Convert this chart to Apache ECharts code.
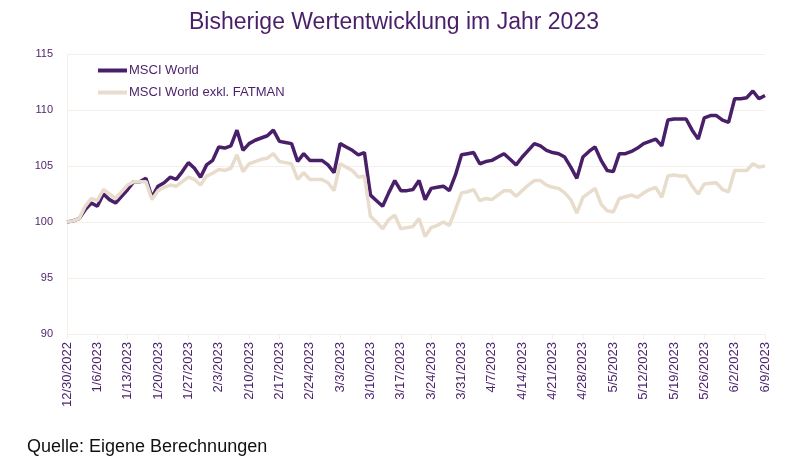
<!DOCTYPE html>
<html>
<head>
<meta charset="utf-8">
<script src="https://cdn.jsdelivr.net/npm/echarts@6/dist/echarts.min.js"></script>
<style>
  html, body { margin: 0; padding: 0; background: #fff; }
  #chart { width: 788px; height: 473px; }
</style>
</head>
<body>
<div id="chart"></div>
<script>
// Handelstage 30.12.2022 - 9.6.2023 (Mo-Fr)
var dates = [];
var d = new Date(2022, 11, 30);
var end = new Date(2023, 5, 9);
while (d <= end) {
    var wd = d.getDay();
    if (wd !== 0 && wd !== 6) {
        dates.push((d.getMonth() + 1) + '/' + d.getDate() + '/' + d.getFullYear());
    }
    d.setDate(d.getDate() + 1);
}

var msciWorld = [
    100.0, 100.1, 100.3, 101.1, 101.7, 101.4, 102.5, 102.0, 101.7, 102.3,
    102.9, 103.6, 103.6, 103.9, 102.2, 103.2, 103.5, 104.0, 103.8, 104.5,
    105.3, 104.8, 104.0, 105.1, 105.5, 106.7, 106.6, 106.8, 108.2, 106.4,
    107.0, 107.3, 107.5, 107.7, 108.2, 107.2, 107.1, 107.0, 105.4, 106.1,
    105.5, 105.5, 105.5, 105.1, 104.4, 107.0, 106.7, 106.4, 106.0, 106.2,
    102.4, 101.9, 101.4, 102.6, 103.7, 102.8, 102.8, 102.9, 103.7, 102.0,
    103.0, 103.1, 103.2, 102.8, 104.2, 106.0, 106.1, 106.2, 105.2, 105.4,
    105.5, 105.8, 106.1, 105.6, 105.1, 105.8, 106.4, 107.0, 106.8, 106.4,
    106.2, 106.1, 105.8, 104.9, 103.9, 105.8, 106.3, 106.7, 105.5, 104.6,
    104.5, 106.1, 106.1, 106.3, 106.6, 107.0, 107.2, 107.4, 106.8, 109.1,
    109.2, 109.2, 109.2, 108.2, 107.4, 109.3, 109.5, 109.5, 109.1, 108.9,
    111.0, 111.0, 111.1, 111.7, 111.0, 111.3
];

var msciExFatman = [
    100.0, 100.1, 100.3, 101.4, 102.1, 101.9, 102.9, 102.5, 102.1, 102.7,
    103.3, 103.6, 103.6, 103.6, 102.0, 102.8, 103.1, 103.3, 103.2, 103.6,
    104.0, 103.8, 103.3, 104.1, 104.35, 104.7, 104.6, 104.8, 106.0, 104.5,
    105.2, 105.4, 105.6, 105.7, 106.1, 105.4, 105.3, 105.2, 103.8, 104.4,
    103.8, 103.8, 103.8, 103.5, 102.8, 105.2, 104.9, 104.6, 104.0, 104.1,
    100.5, 100.0, 99.4, 100.2, 100.6, 99.4, 99.5, 99.6, 100.3, 98.7,
    99.5, 99.7, 100.0, 99.7, 101.1, 102.6, 102.7, 102.9, 101.9, 102.1,
    102.0, 102.4, 102.8, 102.8, 102.3, 102.8, 103.3, 103.7, 103.7, 103.3,
    103.1, 103.0, 102.6, 102.0, 100.8, 102.2, 102.6, 103.0, 101.6, 101.0,
    100.9, 102.1, 102.25, 102.4, 102.2, 102.6, 102.9, 103.1, 102.2, 104.1,
    104.2, 104.1, 104.1, 103.2, 102.5, 103.4, 103.45, 103.5, 102.9, 102.7,
    104.6, 104.6, 104.6, 105.2, 104.9, 105.0
];

var purple = '#4a1f69';
var beige = '#e8dccd';
var gridColor = '#f6efe7';

var chart = echarts.init(document.getElementById('chart'));
chart.setOption({
    animation: false,
    textStyle: { fontFamily: 'Liberation Sans, Arial, sans-serif' },
    title: {
        text: 'Bisherige Wertentwicklung im Jahr 2023',
        left: 'center',
        top: 6,
        textStyle: { color: purple, fontSize: 23, fontWeight: 'normal' }
    },
    legend: {
        data: ['MSCI World', 'MSCI World exkl. FATMAN'],
        orient: 'vertical',
        left: 93,
        top: 59,
        itemWidth: 29,
        itemHeight: 4,
        itemGap: 9,
        icon: 'rect',
        textStyle: { color: purple, fontSize: 13, padding: [0, 0, 0, -3] }
    },
    grid: { left: 67, right: 23, top: 54, bottom: 139 },
    xAxis: {
        type: 'category',
        data: dates,
        boundaryGap: false,
        axisLine: { lineStyle: { color: gridColor } },
        axisTick: { interval: 4, length: 5, lineStyle: { color: gridColor } },
        axisLabel: { interval: 4, rotate: 90, color: purple, fontSize: 13, margin: 8 },
        splitLine: { show: false }
    },
    yAxis: {
        type: 'value',
        min: 90,
        max: 115,
        interval: 5,
        axisLine: { show: true, lineStyle: { color: gridColor } },
        axisTick: { show: false },
        axisLabel: { color: purple, fontSize: 11, margin: 14 },
        splitLine: { lineStyle: { color: gridColor } }
    },
    series: [
        {
            name: 'MSCI World',
            type: 'line',
            data: msciWorld,
            symbol: 'none',
            lineStyle: { color: purple, width: 3.5 },
            itemStyle: { color: purple }
        },
        {
            name: 'MSCI World exkl. FATMAN',
            type: 'line',
            data: msciExFatman,
            symbol: 'none',
            lineStyle: { color: beige, width: 3.5 },
            itemStyle: { color: beige }
        }
    ],
    graphic: [{
        type: 'text',
        left: 27,
        top: 438,
        style: { text: 'Quelle: Eigene Berechnungen', fill: '#111', fontSize: 18, fontFamily: 'Liberation Sans, Arial, sans-serif' }
    }]
});
</script>
</body>
</html>
